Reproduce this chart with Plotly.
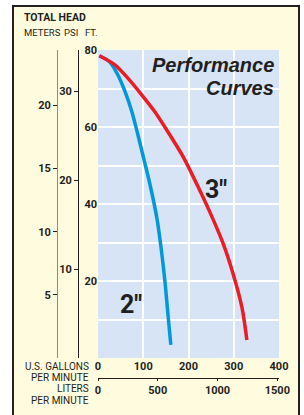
import plotly.graph_objects as go

# ---- data ----
gpm_2in = [3, 26, 44, 60, 75, 86, 99, 115, 130, 139, 148, 155, 161]
head_2in = [78.5, 76.9, 73.5, 69.1, 63.9, 59.0, 52.8, 45.0, 36.4, 29.0, 19.8, 10.8, 3.4]
gpm_3in = [3, 38, 66, 97, 126, 152, 188, 219, 248, 276, 298, 318, 329]
head_3in = [78.5, 76.1, 72.7, 68.3, 63.9, 59.2, 52.3, 45.0, 37.7, 29.9, 22.1, 13.2, 4.7]

ft_ticks = [20, 40, 60, 80]
psi_ticks = [10, 20, 30]
meter_ticks = [5, 10, 15, 20]
gpm_ticks = [0, 100, 200, 300, 400]
lpm_ticks = [0, 500, 1000, 1500]

FT_MAX = 80
GPM_MAX = 400
FT_PER_PSI = 2.31
M_PER_FT = 0.3048
L_PER_GAL = 3.785

# ---- layout geometry (pixels) ----
W, H = 304, 415
ML, MR, MT, MB = 40, 25, 50, 10
PW = W - ML - MR
PH = H - MT - MB
PLOT_L, PLOT_R, PLOT_T, PLOT_B = 98, 279, 50, 358


def px_x(px):
    return (px - ML) / PW


def px_y(py):
    return (H - MB - py) / PH


FONT = "Roboto, Liberation Sans, Arial, sans-serif"
INK = "#231f20"
CREAM = "#fffbdf"
PLOTBG = "#d6e4f5"
BLUE = "#0098da"
RED = "#ed1c24"
CLEAR = "rgba(0,0,0,0)"

fig = go.Figure()
fig.add_trace(go.Scatter(x=gpm_2in, y=head_2in, mode="lines",
                         line=dict(color=BLUE, width=3.5, shape="spline", smoothing=0.8),
                         hoverinfo="skip", showlegend=False))
fig.add_trace(go.Scatter(x=gpm_3in, y=head_3in, mode="lines",
                         line=dict(color=RED, width=3.5, shape="spline", smoothing=0.8),
                         hoverinfo="skip", showlegend=False))
# invisible companions so the secondary unit axes get drawn
fig.add_trace(go.Scatter(x=gpm_2in, y=[h / FT_PER_PSI for h in head_2in], yaxis="y2",
                         mode="lines", line=dict(color=CLEAR), hoverinfo="skip", showlegend=False))
fig.add_trace(go.Scatter(x=gpm_2in, y=[h * M_PER_FT for h in head_2in], yaxis="y3",
                         mode="lines", line=dict(color=CLEAR), hoverinfo="skip", showlegend=False))
fig.add_trace(go.Scatter(x=[g * L_PER_GAL for g in gpm_2in], y=head_2in, xaxis="x2",
                         mode="lines", line=dict(color=CLEAR), hoverinfo="skip", showlegend=False))

tickfont = dict(family=FONT, size=11, color=INK, weight="bold")

fig.update_layout(
    width=W, height=H,
    margin=dict(l=ML, r=MR, t=MT, b=MB, pad=0),
    paper_bgcolor="white",
    plot_bgcolor=PLOTBG,
    showlegend=False,
    xaxis=dict(domain=[px_x(PLOT_L), 1], range=[0, GPM_MAX],
               tickvals=gpm_ticks, ticks="", showline=False, zeroline=False,
               showgrid=True, gridcolor="white", gridwidth=1.5,
               tickfont=tickfont, fixedrange=True),
    yaxis=dict(domain=[px_y(PLOT_B), 1], range=[0, FT_MAX],
               tickvals=ft_ticks, ticks="", showline=False, zeroline=False,
               showgrid=True, gridcolor="white", gridwidth=1.5,
               minor=dict(dtick=10, showgrid=True, gridcolor="white", gridwidth=1.5),
               tickfont=tickfont, fixedrange=True),
    xaxis2=dict(overlaying="x", anchor="free", position=px_y(378), side="bottom",
                range=[0, GPM_MAX * L_PER_GAL], tickvals=lpm_ticks,
                showline=True, linecolor=INK, linewidth=1,
                ticks="outside", ticklen=2, tickcolor=INK,
                showgrid=False, zeroline=False, tickfont=tickfont, fixedrange=True),
    yaxis2=dict(overlaying="y", anchor="free", position=px_x(78), side="left",
                range=[0, FT_MAX / FT_PER_PSI], tickvals=psi_ticks,
                showline=True, linecolor=INK, linewidth=1,
                ticks="outside", ticklen=4, tickcolor=INK,
                showgrid=False, zeroline=False, tickfont=tickfont, fixedrange=True),
    yaxis3=dict(overlaying="y", anchor="free", position=px_x(57), side="left",
                range=[0, FT_MAX * M_PER_FT], tickvals=meter_ticks,
                showline=True, linecolor="#8a8a8a", linewidth=1,
                ticks="outside", ticklen=4, tickcolor=INK,
                showgrid=False, zeroline=False, tickfont=tickfont, fixedrange=True),
)

# outer cream frame
fig.add_shape(type="rect", xref="paper", yref="paper",
              x0=px_x(13), x1=px_x(299), y0=px_y(425), y1=px_y(6),
              fillcolor=CREAM, line=dict(color=INK, width=2), layer="below")
# light blue plotting field
fig.add_shape(type="rect", xref="paper", yref="paper",
              x0=px_x(PLOT_L), x1=1, y0=px_y(PLOT_B), y1=1,
              fillcolor=PLOTBG, line=dict(width=0), layer="below")

ann = []
top_lbl = dict(family=FONT, size=9.5, color=INK)
bot_lbl = dict(family=FONT, size=10, color=INK)
ann.append(dict(text="<b>TOTAL HEAD</b>", x=px_x(22), y=px_y(18), xanchor="left", yanchor="middle",
                font=dict(family=FONT, size=10.5, color=INK)))
ann.append(dict(text="METERS", x=px_x(22), y=px_y(32), xanchor="left", yanchor="middle", font=top_lbl))
ann.append(dict(text="PSI", x=px_x(62), y=px_y(32), xanchor="left", yanchor="middle", font=top_lbl))
ann.append(dict(text="FT.", x=px_x(83), y=px_y(32), xanchor="left", yanchor="middle", font=top_lbl))
ann.append(dict(text="U.S. GALLONS", x=px_x(91), y=px_y(366), xanchor="right", yanchor="middle", font=bot_lbl))
ann.append(dict(text="PER MINUTE", x=px_x(91), y=px_y(377), xanchor="right", yanchor="middle", font=bot_lbl))
ann.append(dict(text="LITERS", x=px_x(91), y=px_y(388), xanchor="right", yanchor="middle", font=bot_lbl))
ann.append(dict(text="PER MINUTE", x=px_x(91), y=px_y(400), xanchor="right", yanchor="middle", font=bot_lbl))
for a in ann:
    a.update(xref="paper", yref="paper", showarrow=False)
    fig.add_annotation(**a)

title_font = dict(family="Liberation Sans, Arial, sans-serif", size=20, color=INK)
fig.add_annotation(text="<b><i>Performance</i></b>", x=393, y=76.1, xref="x", yref="y",
                   xanchor="right", yanchor="middle", showarrow=False, font=title_font)
fig.add_annotation(text="<b><i>Curves</i></b>", x=393, y=70.1, xref="x", yref="y",
                   xanchor="right", yanchor="middle", showarrow=False, font=title_font)

big = dict(family=FONT, size=25, color=INK)
fig.add_annotation(text='<b>3"</b>', x=261, y=43.8, xref="x", yref="y",
                   showarrow=False, font=big)
fig.add_annotation(text='<b>2"</b>', x=73, y=14, xref="x", yref="y",
                   showarrow=False, font=big)

fig.write_html("out.html", config={"displayModeBar": False},
               post_script="document.body.style.margin='0';")
